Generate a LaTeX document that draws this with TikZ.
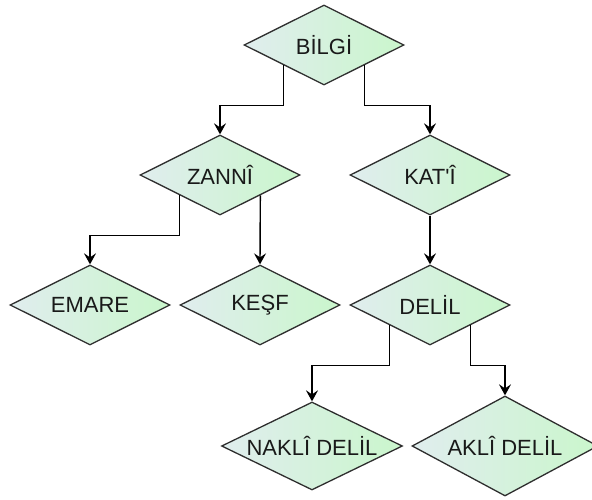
\documentclass[tikz,border=0pt]{standalone}
\usepackage{fontspec}
\setmainfont{Liberation Sans}
\usetikzlibrary{shapes.geometric,arrows.meta}
\definecolor{solrenk}{RGB}{224,237,238}
\definecolor{sagrenk}{RGB}{202,246,204}
\tikzset{
  karar/.style={diamond, draw=black!82, line width=1.3pt, aspect=2, inner sep=0pt,
    minimum width=160pt, minimum height=80pt, left color=solrenk, right color=sagrenk,
    text=black!90, font=\fontsize{22}{26}\selectfont},
  ok/.style={-{Stealth[length=11pt,width=12pt,inset=4pt]}, line width=1.4pt}
}
\begin{document}
\begin{tikzpicture}[x=1pt,y=-1pt]
      \useasboundingbox (0,0) rectangle (592,499);
      \draw
        (324,45) node[karar] (bilgi){BİLGİ}
        (220,175) node[karar] (zanni){ZANNÎ}
        (430,175) node[karar] (kati){KAT\textquotesingle Î}
        (90,305) node[karar] (emare){EMARE}
        (260,305) node[karar] (kesf){KEŞF}
        (430,305) node[karar] (delil){DELİL}
        (312,446) node[karar, minimum width=181pt, minimum height=88pt] (nakli){NAKLÎ DELİL}
        (505,446) node[karar, minimum width=186pt, minimum height=100pt] (akli){AKLÎ DELİL};
      \begin{scope}[ok]
        \draw (bilgi.south west) -- ++(0,40) -| (zanni.north);
        \draw (bilgi.south east) -- ++(0,40) -| (kati.north);
        \draw (zanni.south west) -- ++(0,40) -| (emare.north);
        \draw (zanni.south east) -- (kesf.north);
        \draw (kati.south) to (delil.south |- delil.north);
        \draw (delil.south west) -- ++(0,40) -| (nakli.north);
        \draw (delil.south east) -- ++(0,40) -| (akli.north);
      \end{scope}
    \end{tikzpicture}
\end{document}
